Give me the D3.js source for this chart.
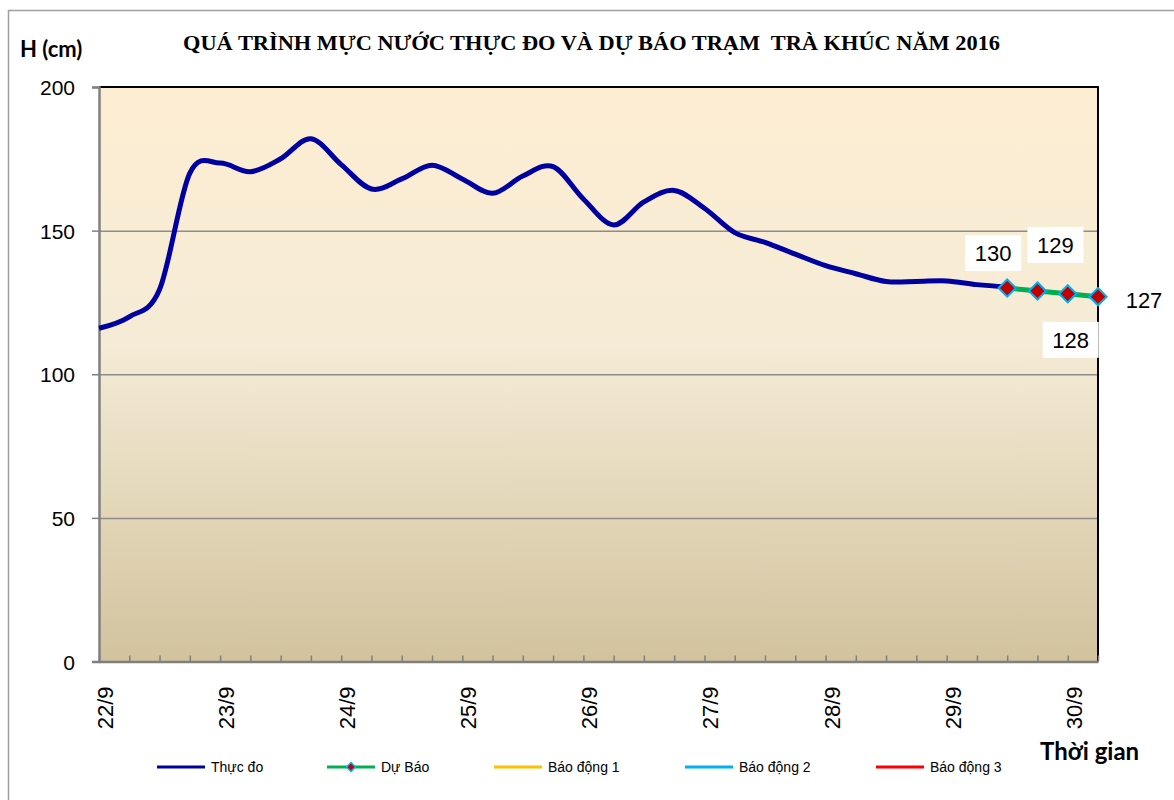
<!DOCTYPE html>
<html>
<head>
<meta charset="utf-8">
<script src="https://cdn.jsdelivr.net/npm/d3@7"></script>
<style>
  body { margin: 0; background: #fff; }
  svg { display: block; }
</style>
</head>
<body>
<div id="chart"></div>
<script>
// day labels on the time axis (one per 24 h)
const dayLabels = ["22/9", "23/9", "24/9", "25/9", "26/9", "27/9", "28/9", "29/9", "30/9"];

// observed level (Thực đo), hours since 22/9 00h, 6-hourly
const obsHours = [0, 6, 12, 18, 24, 30, 36, 42, 48, 54, 60, 66, 72, 78, 84, 90,
  96, 102, 108, 114, 120, 126, 132, 138, 144, 150, 156, 162, 168, 174, 180];
const obsLevel = [116, 120, 129.5, 170, 173.5, 170.5, 175, 182, 173, 164.5, 168, 172.8,
  168, 163, 169, 172.3, 161, 152, 160, 164, 157.8, 149.3, 145.9, 141.8, 137.8, 135,
  132.3, 132.3, 132.5, 131.2, 130.4];

// forecast (Dự Báo)
const fcHours = [180, 186, 192, 198];
const fcLevel = [130, 129, 128, 127];

const yTicks = [0, 50, 100, 150, 200];

const legendItems = [
  { name: "Thực đo", color: "#0000A0", marker: false },
  { name: "Dự Báo", color: "#00B050", marker: true },
  { name: "Báo động 1", color: "#FFC000", marker: false },
  { name: "Báo động 2", color: "#00B0F0", marker: false },
  { name: "Báo động 3", color: "#FF0000", marker: false }
];

const width = 1174, height = 800;
const plot = { left: 99, right: 1098, top: 87, bottom: 661.5 };

const svg = d3.select("#chart").append("svg")
  .attr("width", width)
  .attr("height", height);

// outer chart border
svg.append("rect")
  .attr("x", 8.5).attr("y", 10.5)
  .attr("width", 1200).attr("height", 900)
  .attr("fill", "#fff")
  .attr("stroke", "#a0a0a0")
  .attr("stroke-width", 1.5);

const defs = svg.append("defs");
const grad = defs.append("linearGradient")
  .attr("id", "bg").attr("x1", 0).attr("y1", 0).attr("x2", 0).attr("y2", 1);
grad.append("stop").attr("offset", "0%").attr("stop-color", "#FDEED2");
grad.append("stop").attr("offset", "45%").attr("stop-color", "#F5EBD6");
grad.append("stop").attr("offset", "100%").attr("stop-color", "#D2C39E");

const x = d3.scaleLinear().domain([0, 198]).range([plot.left, plot.right]);
const y = d3.scaleLinear().domain([0, 200]).range([plot.bottom, plot.top]);

svg.append("rect")
  .attr("x", plot.left).attr("y", plot.top)
  .attr("width", plot.right - plot.left)
  .attr("height", plot.bottom - plot.top)
  .attr("fill", "url(#bg)");

// gridlines
svg.append("g")
  .attr("transform", "translate(" + plot.left + ",0)")
  .call(d3.axisLeft(y).tickValues([50, 100, 150]).tickSize(-(plot.right - plot.left)).tickFormat(""))
  .call(g => g.select(".domain").remove())
  .selectAll("line")
  .attr("stroke", "#8c8c8c")
  .attr("stroke-width", 1.5);

// top / right black border
svg.append("path")
  .attr("d", "M" + plot.left + "," + plot.top + "H" + plot.right + "V" + plot.bottom)
  .attr("fill", "none")
  .attr("stroke", "#000")
  .attr("stroke-width", 2);

// y axis
const yAxis = svg.append("g")
  .attr("transform", "translate(" + plot.left + ",0)")
  .call(d3.axisLeft(y).tickValues(yTicks).tickSize(7).tickPadding(17));
yAxis.select(".domain").attr("stroke", "#808080").attr("stroke-width", 2.5);
yAxis.selectAll("line").attr("stroke", "#808080").attr("stroke-width", 1.5);
yAxis.selectAll("text")
  .attr("font-family", "Arial, 'Liberation Sans', sans-serif")
  .attr("font-size", 21)
  .attr("fill", "#000")
  .attr("dy", "0.36em");

// x axis: ticks every 6 h, pointing inward
const xAxis = svg.append("g")
  .attr("transform", "translate(0," + plot.bottom + ")")
  .call(d3.axisBottom(x).tickValues(d3.range(0, 199, 6)).tickSize(-6).tickFormat("").tickSizeOuter(0));
xAxis.select(".domain").attr("stroke", "#808080").attr("stroke-width", 2.5);
xAxis.selectAll("line").attr("stroke", "#808080").attr("stroke-width", 1.5);

svg.append("g").selectAll("text")
  .data(dayLabels)
  .join("text")
  .attr("transform", (d, i) => "translate(" + (x(i * 24) + 14) + "," + (plot.bottom + 25) + ") rotate(-90)")
  .attr("text-anchor", "end")
  .attr("font-family", "Arial, 'Liberation Sans', sans-serif")
  .attr("font-size", 22)
  .attr("fill", "#000")
  .text(d => d);

// observed line
const line = d3.line()
  .x(d => x(d[0]))
  .y(d => y(d[1]))
  .curve(d3.curveCardinal.tension(0));

svg.append("path")
  .datum(obsHours.map((h, i) => [h, obsLevel[i]]))
  .attr("d", line)
  .attr("fill", "none")
  .attr("stroke", "#0000A0")
  .attr("stroke-width", 5)
  .attr("stroke-linejoin", "round");

// forecast line + markers
const fcData = fcHours.map((h, i) => [h, fcLevel[i]]);
svg.append("path")
  .datum(fcData)
  .attr("d", line)
  .attr("fill", "none")
  .attr("stroke", "#00B050")
  .attr("stroke-width", 5);

const diamond = d3.symbol().type(d3.symbolDiamond2).size(190);
svg.append("g").selectAll("path")
  .data(fcData)
  .join("path")
  .attr("transform", d => "translate(" + x(d[0]) + "," + y(d[1]) + ")")
  .attr("d", diamond)
  .attr("fill", "#C00000")
  .attr("stroke", "#00B0F0")
  .attr("stroke-width", 2);

// data labels (white boxes)
const labelOffsets = [[-14, -35], [18, -46], [3, 46], [46, 3]];
const lab = svg.append("g").selectAll("g")
  .data(fcData)
  .join("g")
  .attr("transform", (d, i) => "translate(" + (x(d[0]) + labelOffsets[i][0]) + "," + (y(d[1]) + labelOffsets[i][1]) + ")");
lab.append("rect")
  .attr("x", -28).attr("y", -18).attr("width", 56).attr("height", 36)
  .attr("fill", "#fff");
lab.append("text")
  .attr("text-anchor", "middle")
  .attr("dy", "0.36em")
  .attr("font-family", "Arial, 'Liberation Sans', sans-serif")
  .attr("font-size", 22)
  .attr("fill", "#000")
  .text(d => d[1]);

// title (stretched a little, like the original)
svg.append("text")
  .attr("x", 183).attr("y", 50)
  .attr("font-family", "'Liberation Serif', 'Times New Roman', serif")
  .attr("font-weight", "bold")
  .attr("font-size", 20)
  .attr("fill", "#000")
  .attr("textLength", 817)
  .attr("lengthAdjust", "spacingAndGlyphs")
  .attr("xml:space", "preserve")
  .text("QUÁ TRÌNH MỰC NƯỚC THỰC ĐO VÀ DỰ BÁO TRẠM  TRÀ KHÚC NĂM 2016");

svg.append("text")
  .attr("x", 20).attr("y", 57)
  .attr("font-family", "Lato, 'Open Sans', sans-serif")
  .attr("font-weight", "bold")
  .attr("font-size", 22)
  .attr("fill", "#000")
  .text("H (cm)");

svg.append("text")
  .attr("x", 1040).attr("y", 760)
  .attr("font-family", "Lato, 'Open Sans', sans-serif")
  .attr("font-weight", "bold")
  .attr("font-size", 24)
  .attr("fill", "#000")
  .text("Thời gian");

// legend
const legendX = [157, 327, 494, 685, 876];
const leg = svg.append("g").selectAll("g")
  .data(legendItems)
  .join("g")
  .attr("transform", (d, i) => "translate(" + legendX[i] + ",767)");
leg.append("line")
  .attr("x1", 0).attr("x2", 48)
  .attr("stroke", d => d.color)
  .attr("stroke-width", 3);
leg.filter(d => d.marker).append("path")
  .attr("transform", "translate(24,0)")
  .attr("d", d3.symbol().type(d3.symbolDiamond2).size(50))
  .attr("fill", "#C00000")
  .attr("stroke", "#00B0F0")
  .attr("stroke-width", 1.5);
leg.append("text")
  .attr("x", 54)
  .attr("dy", "0.36em")
  .attr("font-family", "Arial, 'Liberation Sans', sans-serif")
  .attr("font-size", 14)
  .attr("fill", "#000")
  .text(d => d.name);
</script>
</body>
</html>
